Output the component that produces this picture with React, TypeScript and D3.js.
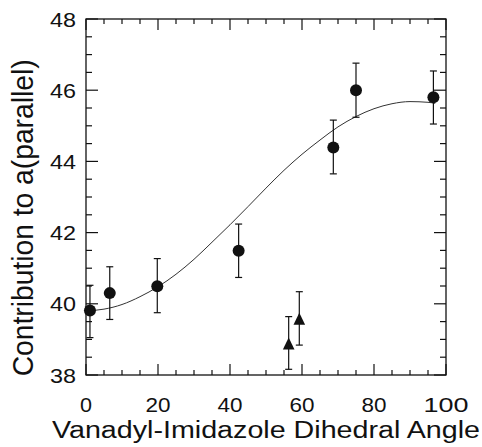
import React from "react";
import * as d3 from "d3";

const circleX = [1.1, 6.6, 19.8, 42.4, 68.7, 75.0, 96.5];
const circleY = [39.81, 40.3, 40.49, 41.49, 44.39, 46.0, 45.8];
const circleLow = [39.05, 39.56, 39.75, 40.74, 43.65, 45.24, 45.05];
const circleHigh = [40.52, 41.04, 41.27, 42.24, 45.16, 46.76, 46.54];

const triX = [56.3, 59.25];
const triY = [38.84, 39.54];
const triLow = [38.16, 38.84];
const triHigh = [39.64, 40.34];

const curveX = [0, 5, 10, 15, 20, 25, 30, 35, 40, 45, 50, 55, 60, 65, 70, 75, 80, 85, 90, 95, 97];
const curveY = [39.8, 39.85, 39.98, 40.2, 40.48, 40.83, 41.25, 41.73, 42.22, 42.73, 43.25, 43.75, 44.2, 44.6, 44.97, 45.26, 45.48, 45.62, 45.68, 45.66, 45.63];

const xTickLabels = [0, 20, 40, 60, 80, 100];
const yTickLabels = [38, 40, 42, 44, 46, 48];

const xTitle = "Vanadyl-Imidazole Dihedral Angle";
const yTitle = "Contribution to a(parallel)";

export default function App() {
  const L = 86, R = 446, T = 19, B = 375;
  const x = d3.scaleLinear().domain([0, 100]).range([L, R]);
  const y = d3.scaleLinear().domain([38, 48]).range([B, T]);
  const font = "'Liberation Sans', Arial, Helvetica, sans-serif";

  const xMinor = d3.range(0, 101, 5);
  const yMinor = d3.range(38, 48.01, 0.5);

  const line = d3
    .line<number>()
    .x((_, i) => x(curveX[i]))
    .y((d) => y(d))
    .curve(d3.curveMonotoneX);

  const cap = 3.5;
  const ink = "#111";

  return (
    <svg width={482} height={447} style={{ position: "absolute", left: 0, top: 0, background: "#fff" }}>
      <rect x={0} y={0} width={482} height={447} fill="#fff" />
      {/* frame */}
      <rect x={L} y={T} width={R - L} height={B - T} fill="none" stroke={ink} strokeWidth={1.3} />
      {/* x ticks */}
      {xMinor.map((v) => {
        const major = v % 20 === 0;
        const len = major ? 11 : 5;
        return (
          <g key={"xt" + v} stroke={ink} strokeWidth={1.2}>
            <line x1={x(v)} x2={x(v)} y1={B} y2={B - len} />
            <line x1={x(v)} x2={x(v)} y1={T} y2={T + len} />
          </g>
        );
      })}
      {/* y ticks */}
      {yMinor.map((v) => {
        const major = Math.abs(v % 2) < 1e-6;
        const len = major ? 12 : 6;
        return (
          <g key={"yt" + v} stroke={ink} strokeWidth={1.2}>
            <line x1={L} x2={L + len} y1={y(v)} y2={y(v)} />
            <line x1={R} x2={R - len} y1={y(v)} y2={y(v)} />
          </g>
        );
      })}
      {/* x tick labels */}
      {xTickLabels.map((v) => (
        <text
          key={"xl" + v}
          x={x(v)}
          y={412}
          fontFamily={font}
          fontSize={19.5}
          textAnchor="middle"
          textLength={v === 100 ? 45 : v === 0 ? 12 : 25}
          lengthAdjust="spacingAndGlyphs"
          fill={ink}
        >
          {v}
        </text>
      ))}
      {/* y tick labels */}
      {yTickLabels.map((v) => (
        <text
          key={"yl" + v}
          x={76}
          y={y(v) + 7.5}
          fontFamily={font}
          fontSize={19.5}
          textAnchor="end"
          textLength={26}
          lengthAdjust="spacingAndGlyphs"
          fill={ink}
        >
          {v}
        </text>
      ))}
      {/* titles */}
      <text
        x={52}
        y={438}
        fontFamily={font}
        fontSize={23.5}
        textLength={428}
        lengthAdjust="spacingAndGlyphs"
        fill={ink}
      >
        {xTitle}
      </text>
      <text
        transform={`translate(33,${(376.7 + 59) / 2}) rotate(-90)`}
        fontFamily={font}
        fontSize={30}
        textAnchor="middle"
        textLength={317}
        lengthAdjust="spacingAndGlyphs"
        fill={ink}
      >
        {yTitle}
      </text>
      {/* fit curve */}
      <path d={line(curveY) || ""} fill="none" stroke="#333" strokeWidth={1} />
      {/* error bars */}
      {circleX.map((v, i) => (
        <g key={"ce" + i} stroke={ink} strokeWidth={1.2}>
          <line x1={x(v)} x2={x(v)} y1={y(circleLow[i])} y2={y(circleHigh[i])} />
          <line x1={x(v) - cap} x2={x(v) + cap} y1={y(circleLow[i])} y2={y(circleLow[i])} />
          <line x1={x(v) - cap} x2={x(v) + cap} y1={y(circleHigh[i])} y2={y(circleHigh[i])} />
        </g>
      ))}
      {triX.map((v, i) => (
        <g key={"te" + i} stroke={ink} strokeWidth={1.2}>
          <line x1={x(v)} x2={x(v)} y1={y(triLow[i])} y2={y(triHigh[i])} />
          <line x1={x(v) - cap} x2={x(v) + cap} y1={y(triLow[i])} y2={y(triLow[i])} />
          <line x1={x(v) - cap} x2={x(v) + cap} y1={y(triHigh[i])} y2={y(triHigh[i])} />
        </g>
      ))}
      {/* markers */}
      {circleX.map((v, i) => (
        <circle key={"c" + i} cx={x(v)} cy={y(circleY[i])} r={6} fill={ink} />
      ))}
      {triX.map((v, i) => {
        const cx = x(v), cy = y(triY[i]);
        return (
          <path
            key={"t" + i}
            d={`M${cx},${cy - 7.5} L${cx + 5.8},${cy + 4.5} L${cx - 5.8},${cy + 4.5} Z`}
            fill={ink}
          />
        );
      })}
    </svg>
  );
}
